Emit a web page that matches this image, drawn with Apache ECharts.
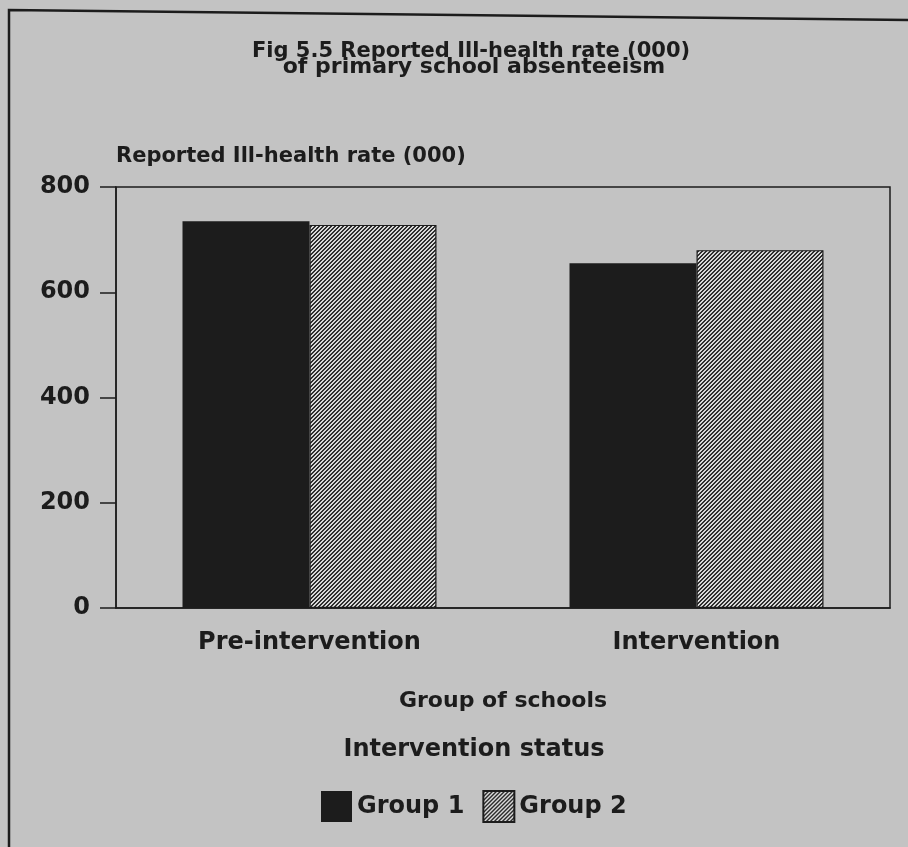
<!DOCTYPE html>
<html>
<head>
<meta charset="utf-8">
<script src="https://cdn.jsdelivr.net/npm/echarts@6/dist/echarts.min.js"></script>
<style>
  html, body { margin: 0; padding: 0; background: #c3c3c3; }
  #chart { width: 908px; height: 847px; }
</style>
</head>
<body>
<div id="chart"></div>
<script>
// Absenteeism ill-health rate by group of schools
const categories = ['Pre-intervention', 'Intervention'];
const group1 = [735, 655];
const group2 = [728, 680];
const seriesNames = ['Group 1', 'Group 2'];
const yTicks = [0, 200, 400, 600, 800];

const FONT = '"DejaVu Sans", "Liberation Sans", Arial, sans-serif';
const INK = '#1c1c1c';
const BG = '#c3c3c3';

// crisp 45° "/" hatch tile for the second group: 2px dark, 2px light
function hatchTile() {
  const s = 4;
  const c = document.createElement('canvas');
  c.width = s; c.height = s;
  const g = c.getContext('2d');
  g.fillStyle = '#d8d8d8';
  g.fillRect(0, 0, s, s);
  g.fillStyle = '#2e2e2e';
  for (let y = 0; y < s; y++) {
    for (let x = 0; x < s; x++) {
      if ((x + y) % s < 2) g.fillRect(x, y, 1, 1);
    }
  }
  return c;
}
const hatch = { image: hatchTile(), repeat: 'repeat' };

const chart = echarts.init(document.getElementById('chart'), null, { renderer: 'canvas' });

chart.setOption({
  backgroundColor: BG,
  animation: false,
  grid: {
    left: 116, top: 187, right: 18, bottom: 239,
    show: true, borderColor: INK, borderWidth: 1.5, backgroundColor: 'transparent'
  },
  legend: {
    left: 316, top: 785,
    itemWidth: 31, itemHeight: 31, itemGap: 18,
    icon: 'rect',
    data: seriesNames,
    textStyle: { fontFamily: FONT, fontSize: 24, fontWeight: 'bold', color: INK }
  },
  xAxis: {
    type: 'category',
    data: categories,
    axisLine: { lineStyle: { color: INK, width: 1.5 } },
    axisTick: { alignWithLabel: true, length: 10, lineStyle: { color: INK, width: 1.5 } },
    axisLabel: { margin: 23, fontFamily: FONT, fontSize: 24, fontWeight: 'bold', color: INK },
    name: 'Group of schools',
    nameLocation: 'middle',
    nameGap: 82,
    nameTextStyle: { fontFamily: FONT, fontSize: 22, fontWeight: 'bold', color: INK }
  },
  yAxis: {
    type: 'value',
    min: yTicks[0],
    max: yTicks[yTicks.length - 1],
    interval: yTicks[1] - yTicks[0],
    splitLine: { show: false },
    axisLine: { show: true, lineStyle: { color: INK, width: 1.5 } },
    axisTick: { show: true, length: 16, lineStyle: { color: INK, width: 1.5 } },
    axisLabel: { margin: 26, fontFamily: FONT, fontSize: 24, fontWeight: 'bold', color: INK },
    name: 'Reported Ill-health rate (000)',
    nameLocation: 'end',
    nameGap: 20,
    nameTextStyle: { align: 'left', fontFamily: FONT, fontSize: 21, fontWeight: 'bold', color: INK }
  },
  series: [
    {
      name: seriesNames[0],
      type: 'bar',
      data: group1,
      barWidth: 127,
      barGap: '0%',
      itemStyle: { color: INK }
    },
    {
      name: seriesNames[1],
      type: 'bar',
      data: group2,
      barWidth: 127,
      itemStyle: { color: hatch, borderColor: INK, borderWidth: 1.2 }
    }
  ],
  graphic: [
    {
      type: 'polyline',
      silent: true,
      shape: { points: [[9, 847], [9, 10], [908, 20]] },
      style: { stroke: INK, lineWidth: 2.5, fill: null }
    },
    {
      type: 'text',
      style: {
        text: 'Fig 5.5 Reported Ill-health rate (000)',
        x: 471, y: 52, align: 'center', verticalAlign: 'middle',
        font: 'bold 21px ' + FONT, fill: INK
      }
    },
    {
      type: 'text',
      style: {
        text: 'of primary school absenteeism',
        x: 474, y: 67, align: 'center', verticalAlign: 'middle',
        font: 'bold 22px ' + FONT, fill: INK
      }
    },
    {
      type: 'text',
      style: {
        text: 'Intervention status',
        x: 474, y: 750, align: 'center', verticalAlign: 'middle',
        font: 'bold 24px ' + FONT, fill: INK
      }
    }
  ]
});
</script>
</body>
</html>
